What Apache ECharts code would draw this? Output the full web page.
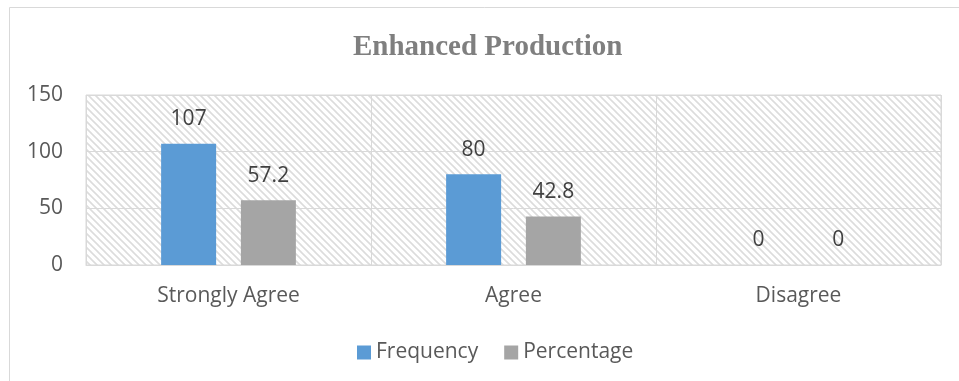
<!DOCTYPE html>
<html>
<head>
<meta charset="utf-8">
<script src="https://cdn.jsdelivr.net/npm/echarts@6/dist/echarts.min.js"></script>
<style>
  html, body { margin: 0; padding: 0; background: #fff; }
  #chart { width: 959px; height: 381px; }
</style>
</head>
<body>
<div id="chart"></div>
<script>
  // data
  const categories = ['Strongly Agree', 'Agree', 'Disagree'];
  const frequency = [107, 80, 0];
  const percentage = [57.2, 42.8, 0];
  const yTicks = [0, 50, 100, 150];

  // hatched background for the plot area
  function makeHatch() {
    const c = document.createElement('canvas');
    c.width = 7;
    c.height = 7;
    const ctx = c.getContext('2d');
    ctx.fillStyle = '#ffffff';
    ctx.fillRect(0, 0, 7, 7);
    ctx.strokeStyle = '#dcdcdc';
    ctx.lineWidth = 1.6;
    ctx.beginPath();
    ctx.moveTo(-2, -2); ctx.lineTo(9, 9);
    ctx.moveTo(-9, -2); ctx.lineTo(2, 9);
    ctx.moveTo(5, -2); ctx.lineTo(16, 9);
    ctx.stroke();
    return c;
  }

  const chart = echarts.init(document.getElementById('chart'));
  const labelFont = { fontFamily: 'Open Sans', fontSize: 21, color: '#404040' };

  chart.setOption({
    animation: false,
    backgroundColor: '#ffffff',
    graphic: [{
      type: 'rect',
      shape: { x: 9.5, y: 7.5, width: 1000, height: 400 },
      style: { fill: 'none', stroke: '#d9d9d9', lineWidth: 1 },
      silent: true
    }],
    title: {
      text: 'Enhanced Production',
      left: 353,
      top: 33,
      padding: 0,
      textStyle: {
        fontFamily: 'Liberation Serif',
        fontWeight: 'bold',
        fontSize: 29,
        color: '#7f7f7f'
      }
    },
    legend: {
      top: 337,
      left: 352,
      itemWidth: 14,
      itemHeight: 14,
      itemGap: 26,
      icon: 'rect',
      textStyle: { fontFamily: 'Open Sans', fontSize: 21, color: '#595959' },
      data: ['Frequency', 'Percentage']
    },
    grid: {
      left: 86,
      right: 18,
      top: 95,
      height: 170,
      show: true,
      backgroundColor: { image: makeHatch(), repeat: 'repeat' },
      borderColor: '#d9d9d9',
      borderWidth: 1
    },
    xAxis: {
      type: 'category',
      data: categories,
      axisLine: { show: true, lineStyle: { color: '#d9d9d9' } },
      axisTick: { show: false },
      splitLine: { show: true, lineStyle: { color: '#d9d9d9' } },
      axisLabel: { margin: 21, fontFamily: 'Open Sans', fontSize: 21, color: '#595959' }
    },
    yAxis: {
      type: 'value',
      min: yTicks[0],
      max: yTicks[yTicks.length - 1],
      interval: 50,
      axisLine: { show: false },
      axisTick: { show: false },
      splitLine: { lineStyle: { color: '#d9d9d9' } },
      axisLabel: { margin: 23, fontFamily: 'Open Sans', fontSize: 21, color: '#595959' }
    },
    series: [
      {
        name: 'Frequency',
        type: 'bar',
        data: frequency,
        barWidth: '19.3%',
        barGap: '45%',
        itemStyle: { color: '#5b9bd5' },
        label: Object.assign({ show: true, position: 'top', distance: 14 }, labelFont)
      },
      {
        name: 'Percentage',
        type: 'bar',
        data: percentage,
        barWidth: '19.3%',
        itemStyle: { color: '#a5a5a5' },
        label: Object.assign({ show: true, position: 'top', distance: 14 }, labelFont)
      }
    ]
  });
</script>
</body>
</html>
